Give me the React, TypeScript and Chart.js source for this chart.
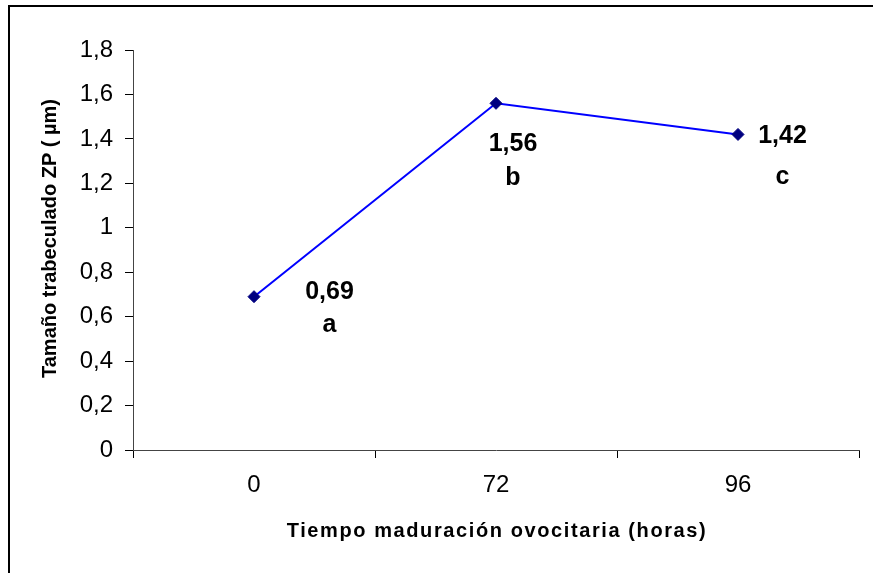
import React, { useEffect, useRef } from 'react';
import { Chart, registerables } from 'chart.js';

Chart.register(...registerables);

const categories = ['0', '72', '96'];
const values = [0.69, 1.56, 1.42];
const groupLetters = ['a', 'b', 'c'];
const yTickLabels = ['0', '0,2', '0,4', '0,6', '0,8', '1', '1,2', '1,4', '1,6', '1,8'];
const xTitle = 'Tiempo maduración ovocitaria (horas)';
const yTitle = 'Tamaño trabeculado ZP ( µm)';

const FONT = '"Liberation Sans", Arial, sans-serif';

// label offsets from each point (pixels): centre x, baseline of value, baseline of letter
const labelOffsets = [
  { dx: 75.5, dy1: 2.6, dy2: 35.6 },
  { dx: 17, dy1: 47.7, dy2: 81.7 },
  { dx: 44.5, dy1: 8.6, dy2: 49.6 },
];

const annotPlugin = {
  id: 'annot',
  afterDatasetsDraw(chart: any) {
    const ctx = chart.ctx;
    const meta = chart.getDatasetMeta(0);
    ctx.save();
    ctx.fillStyle = '#000';
    ctx.textAlign = 'center';
    ctx.textBaseline = 'alphabetic';
    ctx.font = `bold 25px ${FONT}`;
    meta.data.forEach((pt: any, i: number) => {
      const o = labelOffsets[i];
      const txt = values[i].toFixed(2).replace('.', ',');
      ctx.fillText(txt, pt.x + o.dx, pt.y + o.dy1);
      ctx.fillText(groupLetters[i], pt.x + o.dx, pt.y + o.dy2);
    });
    const area = chart.chartArea;
    // x title
    ctx.font = `bold 20px ${FONT}`;
    (ctx as any).letterSpacing = '1.6px';
    ctx.fillText(xTitle, (area.left + area.right) / 2 + 1, chart.height - 36);
    (ctx as any).letterSpacing = '0px';
    // y title
    ctx.font = `bold 20px ${FONT}`;
    ctx.translate(55.5, 238.5);
    ctx.rotate(-Math.PI / 2);
    ctx.fillText(yTitle, 0, 0);
    ctx.restore();
  },
};

export default function App() {
  const canvasRef = useRef<HTMLCanvasElement | null>(null);

  useEffect(() => {
    if (!canvasRef.current) return;
    const chart = new Chart(canvasRef.current, {
      type: 'line',
      data: {
        labels: categories,
        datasets: [
          {
            data: values,
            borderColor: '#0000FF',
            borderWidth: 2,
            tension: 0,
            pointStyle: 'rectRot',
            pointRadius: 6,
            pointHoverRadius: 6,
            pointBackgroundColor: '#000080',
            pointBorderColor: '#000080',
            pointBorderWidth: 1,
          },
        ],
      },
      options: {
        animation: false,
        responsive: false,
        maintainAspectRatio: false,
        layout: { padding: { left: 0, right: 14, top: 50, bottom: 0 } },
        plugins: {
          legend: { display: false },
          tooltip: { enabled: false },
          title: { display: false },
        },
        scales: {
          x: {
            offset: true,
            grid: {
              offset: true,
              drawOnChartArea: false,
              tickLength: 8,
              color: '#000',
            },
            border: { color: '#444', width: 1 },
            ticks: {
              color: '#000',
              font: { family: FONT, size: 24 },
              padding: 13,
            },
            afterFit(scale: any) {
              scale.height = 123;
            },
          },
          y: {
            min: 0,
            max: 1.8,
            ticks: {
              stepSize: 0.2,
              color: '#000',
              font: { family: FONT, size: 24 },
              padding: 12,
              callback: (_v: any, i: number) => yTickLabels[i],
            },
            grid: {
              drawOnChartArea: false,
              tickLength: 8,
              color: '#000',
            },
            border: { color: '#444', width: 1 },
            afterFit(scale: any) {
              scale.width = 133;
            },
          },
        },
      },
      plugins: [annotPlugin],
    });
    return () => chart.destroy();
  }, []);

  return (
    <div
      style={{
        position: 'fixed',
        left: 0,
        top: 0,
        width: 873,
        height: 573,
        overflow: 'hidden',
        background: '#fff',
      }}
    >
      <canvas
        ref={canvasRef}
        width={873}
        height={573}
        style={{ position: 'absolute', left: 0, top: 0, width: 873, height: 573 }}
      />
      <div
        style={{
          position: 'absolute',
          left: 8,
          top: 5,
          width: 900,
          height: 700,
          borderLeft: '2px solid #000',
          borderTop: '2px solid #000',
          boxSizing: 'border-box',
          pointerEvents: 'none',
        }}
      />
    </div>
  );
}
